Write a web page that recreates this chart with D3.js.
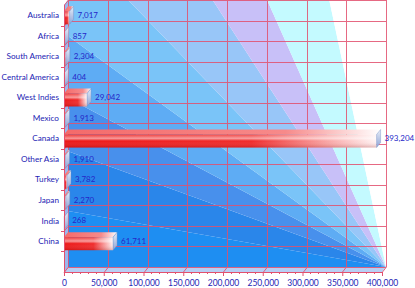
<!DOCTYPE html>
<html>
<head>
<meta charset="utf-8">
<script src="https://cdn.jsdelivr.net/npm/d3@7"></script>
<style>
  body { margin: 0; background: #fff; }
  text { font-family: Lato, "Liberation Sans", sans-serif; }
</style>
</head>
<body>
<div id="chart"></div>
<script>
// data
var categories = ['Australia', 'Africa', 'South America', 'Central America', 'West Indies', 'Mexico',
                  'Canada', 'Other Asia', 'Turkey', 'Japan', 'India', 'China']
var values = [7017, 857, 2304, 404, 29042, 1913, 393204, 1910, 3782, 2270, 268, 61711]
var xTicks = [0, 50000, 100000, 150000, 200000, 250000, 300000, 350000, 400000]

var W = 415, H = 288
var dx = 4, dy = 5   // 3D depth offset
var pL = 64, pR = 382, pT = 5, pB = 272

var svg = d3.select('#chart')
    .append('svg')
    .attr('width', W)
    .attr('height', H)

var x = d3.scaleLinear().domain([0, 400000]).range([pL, pR])
// one empty slot under the last category
var y = d3.scaleBand().domain(categories.concat([' '])).range([pT, pB])

var defs = svg.append('defs')

// back wall fan, rays from the lower right corner
var cx = pR + dx, cy = pB - dy
var wx0 = pL + dx, wy0 = pT - dy
var fanAngles = [0, 10, 20, 28, 36, 46, 57, 66, 78, 90]
var fanColors = ['#1e8ef2', '#2a86ea', '#4890ec', '#5eacf4', '#7ac4f8', '#98c6f8', '#c8c0f8', '#c4faff', '#ffffff']
var cornerAngle = Math.atan2(cy - wy0, cx - wx0) * 180 / Math.PI

function edgePoint(a) {
    if (a >= 90) return [cx, wy0]
    var t = Math.tan(a * Math.PI / 180)
    var py = cy - (cx - wx0) * t
    if (py >= wy0) return [wx0, py]
    return [cx - (cy - wy0) / t, wy0]
}

var wall = svg.append('g')
wall.selectAll('path')
    .data(d3.range(fanColors.length))
    .enter()
    .append('path')
    .attr('d', i => {
        var a0 = fanAngles[i], a1 = fanAngles[i + 1]
        var pts = [[cx, cy], edgePoint(a0)]
        if (a0 < cornerAngle && a1 > cornerAngle) pts.push([wx0, wy0])
        pts.push(edgePoint(a1))
        return 'M' + pts.join('L') + 'Z'
    })
    .attr('fill', i => fanColors[i])

// left side wall and floor
svg.append('path')
    .attr('d', `M${pL},${pT}L${wx0},${wy0}L${wx0},${cy}L${pL},${pB}Z`)
    .attr('fill', '#9ab8ee')
svg.append('path')
    .attr('d', `M${pL},${pB}L${pR},${pB}L${cx},${cy}L${wx0},${cy}Z`)
    .attr('fill', '#b8cff4')

var grid = svg.append('g')
    .attr('stroke', '#e2506e')
    .attr('stroke-width', 1)
    .attr('fill', 'none')
    .attr('opacity', 0.85)

// vertical grid on wall + floor
xTicks.forEach(v => {
    var px = Math.round(x(v)) + 0.5
    if (v > 0) grid.append('line').attr('x1', px + dx).attr('x2', px + dx).attr('y1', wy0).attr('y2', cy)
    grid.append('line').attr('x1', px).attr('x2', px + dx).attr('y1', pB).attr('y2', cy)
})
// horizontal grid on wall + left side
var bounds = y.domain().map(c => y(c)).slice(1).concat([pB])
bounds.forEach(b => {
    var py = Math.round(b) + 0.5
    grid.append('line').attr('x1', wx0).attr('x2', cx).attr('y1', py - dy).attr('y2', py - dy)
    grid.append('line').attr('x1', pL).attr('x2', wx0).attr('y1', py).attr('y2', py - dy)
})
grid.append('line').attr('x1', wx0).attr('x2', cx).attr('y1', wy0 + 0.5).attr('y2', wy0 + 0.5)
grid.append('line').attr('x1', wx0 + 0.5).attr('x2', wx0 + 0.5).attr('y1', wy0).attr('y2', cy)
grid.append('line').attr('x1', pL + 0.5).attr('x2', wx0 + 0.5).attr('y1', pT).attr('y2', wy0)

// gradients for bars
var gFront = defs.append('linearGradient').attr('id', 'barFront')
gFront.append('stop').attr('offset', '0%').attr('stop-color', '#ec1616')
gFront.append('stop').attr('offset', '60%').attr('stop-color', '#f02a2a')
gFront.append('stop').attr('offset', '100%').attr('stop-color', '#fff4f4')

var gShade = defs.append('linearGradient').attr('id', 'barShade')
    .attr('x1', 0).attr('x2', 0).attr('y1', 0).attr('y2', 1)
gShade.append('stop').attr('offset', '0%').attr('stop-color', '#fff').attr('stop-opacity', 0.15)
gShade.append('stop').attr('offset', '30%').attr('stop-color', '#fff').attr('stop-opacity', 0.55)
gShade.append('stop').attr('offset', '50%').attr('stop-color', '#fff').attr('stop-opacity', 0)
gShade.append('stop').attr('offset', '100%').attr('stop-color', '#800').attr('stop-opacity', 0.25)

var gTop = defs.append('linearGradient').attr('id', 'barTop')
gTop.append('stop').attr('offset', '0%').attr('stop-color', '#f46a6a')
gTop.append('stop').attr('offset', '70%').attr('stop-color', '#f78a8a')
gTop.append('stop').attr('offset', '100%').attr('stop-color', '#ffffff')

var gCap = defs.append('linearGradient').attr('id', 'barCap')
    .attr('x1', 0).attr('x2', 0).attr('y1', 0).attr('y2', 1)
gCap.append('stop').attr('offset', '0%').attr('stop-color', '#e8eef8')
gCap.append('stop').attr('offset', '100%').attr('stop-color', '#8ea4d6')

// bars
var barH = 13
var bars = svg.append('g')
    .selectAll('g')
    .data(categories.map((c, i) => ({ name: c, value: values[i] })))
    .enter()
    .append('g')

function yFront(d) { return y(d.name) + y.bandwidth() / 2 - (barH - dy) / 2 }

bars.append('path')
    .attr('d', d => {
        var x0 = pL, x1 = x(d.value), y0 = yFront(d)
        return `M${x0},${y0}L${x1},${y0}L${x1 + dx},${y0 - dy}L${x0 + dx},${y0 - dy}Z`
    })
    .attr('fill', 'url(#barTop)')

bars.append('rect')
    .attr('x', pL)
    .attr('y', d => yFront(d))
    .attr('width', d => Math.max(0.5, x(d.value) - pL))
    .attr('height', barH)
    .attr('fill', 'url(#barFront)')
bars.append('rect')
    .attr('x', pL)
    .attr('y', d => yFront(d))
    .attr('width', d => Math.max(0.5, x(d.value) - pL))
    .attr('height', barH)
    .attr('fill', 'url(#barShade)')

bars.append('path')
    .attr('d', d => {
        var x1 = x(d.value), y0 = yFront(d)
        return `M${x1},${y0}L${x1 + dx},${y0 - dy}L${x1 + dx},${y0 - dy + barH}L${x1},${y0 + barH}Z`
    })
    .attr('fill', 'url(#barCap)')
    .attr('stroke', '#7088c0')
    .attr('stroke-width', 0.4)

// value labels
bars.append('text')
    .attr('x', d => x(d.value) + dx + 4)
    .attr('y', d => y(d.name) + y.bandwidth() / 2)
    .attr('dy', '0.35em')
    .attr('font-size', '8px')
    .attr('fill', '#2626c8')
    .text(d => d3.format(',')(d.value))

// category labels + y axis
var yAxis = svg.append('g')
yAxis.append('line')
    .attr('x1', pL + 0.5).attr('x2', pL + 0.5).attr('y1', pT).attr('y2', pB)
    .attr('stroke', '#e2506e')
yAxis.selectAll('.tk')
    .data(bounds.slice(0, -1))
    .enter()
    .append('line')
    .attr('x1', pL - 3).attr('x2', pL)
    .attr('y1', d => Math.round(d) + 0.5).attr('y2', d => Math.round(d) + 0.5)
    .attr('stroke', '#e2506e')
yAxis.selectAll('text')
    .data(categories)
    .enter()
    .append('text')
    .attr('x', pL - 5)
    .attr('y', d => y(d) + y.bandwidth() / 2)
    .attr('dy', '0.35em')
    .attr('text-anchor', 'end')
    .attr('font-size', '8.2px')
    .attr('fill', '#2424b4')
    .text(d => d)

// x axis
var xAxis = svg.append('g')
    .attr('transform', `translate(0,${pB})`)
    .call(d3.axisBottom(x)
        .tickValues(xTicks)
        .tickSize(4)
        .tickFormat(d3.format(',')))
xAxis.select('.domain').attr('stroke', '#e2506e')
xAxis.selectAll('.tick line').attr('stroke', '#e2506e')
xAxis.selectAll('.tick text')
    .attr('fill', '#2424b4')
    .attr('font-size', '8.5px')
    .attr('font-family', 'Lato, "Liberation Sans", sans-serif')
    .attr('dy', '0.71em')
    .attr('y', 8)

var minor = svg.append('g').attr('transform', `translate(0,${pB})`)
minor.selectAll('line')
    .data(d3.range(0, 400001, 10000).filter(v => v % 50000))
    .enter()
    .append('line')
    .attr('x1', d => Math.round(x(d)) + 0.5).attr('x2', d => Math.round(x(d)) + 0.5)
    .attr('y1', 0).attr('y2', 2)
    .attr('stroke', '#e2506e')
</script>
</body>
</html>
